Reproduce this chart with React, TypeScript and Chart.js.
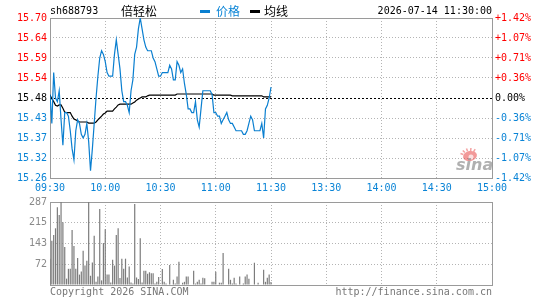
import { useEffect, useRef } from "react";
import { Chart, registerables } from "chart.js";

Chart.register(...registerables);

// ---- quote header ----
const symbolCode = "sh688793";
const stockName = "倍轻松";
const legendPrice = "价格";
const legendAvg = "均线";
const stampText = "2026-07-14 11:30:00";
const copyrightText = "Copyright 2026 SINA.COM";
const siteText = "http://finance.sina.com.cn";

// ---- axes ----
const prevClose = 15.48;
const priceMin = 15.26;
const priceMax = 15.7;
const timeLabels = ["09:30", "10:00", "10:30", "11:00", "11:30", "13:30", "14:00", "14:30", "15:00"];
// bottom → top
const priceTickLabels = ["15.26", "15.32", "15.37", "15.43", "15.48", "15.54", "15.59", "15.64", "15.70"];
const pctTickLabels = ["-1.42%", "-1.07%", "-0.71%", "-0.36%", "0.00%", "+0.36%", "+0.71%", "+1.07%", "+1.42%"];
const volumeMax = 287;
const volumeTickLabels = ["", "72", "143", "215", "287"];

// ---- minute series, 09:30 → 11:30 ----
const prices = [
  15.49, 15.41, 15.55, 15.48, 15.47, 15.5, 15.42, 15.35, 15.44, 15.44,
  15.43, 15.39, 15.34, 15.31, 15.39, 15.42, 15.41, 15.38, 15.37, 15.38,
  15.41, 15.36, 15.28, 15.34, 15.41, 15.48, 15.54, 15.59, 15.61, 15.6,
  15.58, 15.55, 15.54, 15.54, 15.54, 15.6, 15.64, 15.6, 15.56, 15.5,
  15.47, 15.47, 15.46, 15.44, 15.5, 15.53, 15.6, 15.62, 15.67, 15.7,
  15.67, 15.64, 15.62, 15.61, 15.61, 15.61, 15.59, 15.58, 15.56, 15.54,
  15.54, 15.55, 15.55, 15.55, 15.55, 15.57, 15.56, 15.53, 15.53, 15.58,
  15.57, 15.55, 15.56, 15.52, 15.49, 15.45, 15.45, 15.44, 15.44, 15.47,
  15.42, 15.4, 15.45, 15.5, 15.5, 15.5, 15.5, 15.5, 15.49, 15.44,
  15.44, 15.43, 15.43, 15.41, 15.42, 15.43, 15.44, 15.42, 15.41, 15.41,
  15.4, 15.39, 15.39, 15.39, 15.39, 15.38, 15.38, 15.39, 15.41, 15.43,
  15.42, 15.39, 15.39, 15.39, 15.39, 15.41, 15.37, 15.45, 15.46, 15.48,
  15.51,
];

const avgPrices = [
  15.488, 15.478, 15.47, 15.46, 15.458, 15.461, 15.461, 15.452, 15.441, 15.44,
  15.44, 15.44, 15.43, 15.422, 15.42, 15.417, 15.414, 15.414, 15.414, 15.414,
  15.414, 15.411, 15.411, 15.411, 15.411, 15.414, 15.42, 15.425, 15.43, 15.436,
  15.439, 15.444, 15.444, 15.444, 15.444, 15.45, 15.455, 15.461, 15.463, 15.463,
  15.463, 15.463, 15.463, 15.463, 15.463, 15.466, 15.469, 15.474, 15.477, 15.48,
  15.483, 15.483, 15.483, 15.486, 15.488, 15.488, 15.488, 15.488, 15.488, 15.488,
  15.488, 15.488, 15.488, 15.488, 15.488, 15.488, 15.488, 15.488, 15.488, 15.491,
  15.491, 15.491, 15.491, 15.491, 15.491, 15.491, 15.491, 15.491, 15.491, 15.491,
  15.491, 15.491, 15.491, 15.491, 15.491, 15.491, 15.491, 15.491, 15.491, 15.488,
  15.488, 15.488, 15.488, 15.488, 15.488, 15.488, 15.488, 15.488, 15.488, 15.486,
  15.486, 15.486, 15.486, 15.486, 15.486, 15.486, 15.486, 15.486, 15.486, 15.486,
  15.486, 15.486, 15.486, 15.486, 15.486, 15.486, 15.483, 15.483, 15.483, 15.483,
  15.483,
];

const volumes = [
  91, 153, 173, 196, 269, 242, 287, 217, 131, 22,
  56, 56, 190, 135, 56, 93, 36, 47, 118, 67,
  84, 287, 32, 78, 170, 11, 29, 263, 16, 145,
  193, 36, 36, 9, 87, 67, 173, 196, 24, 91,
  56, 91, 26, 64, 9, 5, 280, 26, 21, 162,
  9, 49, 49, 39, 44, 41, 41, 5, 11, 28,
  0, 55, 11, 5, 0, 69, 0, 18, 5, 29,
  80, 0, 8, 11, 29, 29, 0, 0, 49, 5,
  11, 18, 5, 25, 23, 0, 0, 0, 11, 11,
  46, 0, 8, 8, 111, 0, 0, 56, 18, 5,
  25, 5, 0, 29, 0, 5, 29, 36, 22, 0,
  0, 77, 0, 8, 0, 0, 53, 11, 25, 36,
  10,
];

// ---- styling ----
const MONO = '"DejaVu Sans Mono", monospace';
const CJK = '"Noto Sans CJK SC", sans-serif';
const BLUE = "#0a84d6";
const LINE_BLUE = "#0a7fd0";
const RED = "#ff0000";
const GRID = "#b4b4b4";
const FRAME = "#9a9a9a";
const VOL_GRAY = "#7c7c7c";
const LABEL_GRAY = "#8a8a8a";

const timeTicks = (axis: any) => {
  axis.ticks = timeLabels.map((_, i) => ({ value: i * 30 }));
};
const priceTicks = (axis: any) => {
  axis.ticks = priceTickLabels.map((_, i) => ({
    value: priceMin + ((priceMax - priceMin) * i) / (priceTickLabels.length - 1),
  }));
};
const sideColor = (ctx: any) => (ctx.index > 4 ? RED : ctx.index === 4 ? "#000" : BLUE);

const framePlugin = {
  id: "frame",
  beforeDatasetsDraw(chart: any) {
    const { ctx, chartArea: a } = chart;
    ctx.save();
    ctx.strokeStyle = FRAME;
    ctx.lineWidth = 1;
    ctx.strokeRect(Math.round(a.left) + 0.5, Math.round(a.top) + 0.5, Math.round(a.right - a.left), Math.round(a.bottom - a.top));
    ctx.restore();
  },
};

const baselinePlugin = {
  id: "baseline",
  beforeDatasetsDraw(chart: any) {
    const { ctx, chartArea: a, scales } = chart;
    const y = Math.round(scales.y.getPixelForValue(prevClose)) + 0.5;
    ctx.save();
    ctx.strokeStyle = "#000";
    ctx.lineWidth = 1;
    ctx.setLineDash([2, 2]);
    ctx.beginPath();
    ctx.moveTo(a.left, y);
    ctx.lineTo(a.right, y);
    ctx.stroke();
    ctx.restore();
  },
};

// faded site mark in the lower right corner of the price panel
const markPlugin = {
  id: "mark",
  beforeDatasetsDraw(chart: any) {
    const { ctx, chartArea: a } = chart;
    const cx = a.right - 22;
    const cy = a.bottom - 22;
    ctx.save();
    ctx.fillStyle = "rgba(232, 70, 70, 0.55)";
    ctx.beginPath();
    ctx.ellipse(cx, cy, 7, 5, -0.2, 0, Math.PI * 2);
    ctx.fill();
    ctx.strokeStyle = "rgba(232, 70, 70, 0.5)";
    ctx.lineWidth = 1.5;
    for (let k = 0; k < 5; k++) {
      const ang = -Math.PI * 0.9 + k * 0.45;
      ctx.beginPath();
      ctx.moveTo(cx + Math.cos(ang) * 7, cy + Math.sin(ang) * 5);
      ctx.lineTo(cx + Math.cos(ang) * 10, cy + Math.sin(ang) * 8);
      ctx.stroke();
    }
    ctx.fillStyle = "rgba(255, 255, 255, 0.7)";
    ctx.beginPath();
    ctx.arc(cx + 1, cy + 1, 2.5, 0, Math.PI * 2);
    ctx.fill();
    ctx.font = 'italic bold 16px "DejaVu Sans", sans-serif';
    ctx.fillStyle = "rgba(150, 150, 150, 0.75)";
    ctx.textBaseline = "alphabetic";
    ctx.fillText("sina", a.right - 36, a.bottom - 8);
    ctx.restore();
  },
};

function PriceVolumeChart() {
  const priceRef = useRef<HTMLCanvasElement>(null);
  const volRef = useRef<HTMLCanvasElement>(null);

  useEffect(() => {
    const priceChart = new Chart(priceRef.current!, {
      type: "line",
      data: {
        datasets: [
          {
            label: legendPrice,
            data: prices.map((p, i) => ({ x: i, y: p })),
            borderColor: LINE_BLUE,
            borderWidth: 1.2,
            pointRadius: 0,
            tension: 0,
          },
          {
            label: legendAvg,
            data: avgPrices.map((p, i) => ({ x: i, y: p })),
            borderColor: "#000",
            borderWidth: 1.2,
            pointRadius: 0,
            tension: 0,
          },
        ],
      },
      options: {
        animation: false,
        responsive: false,
        devicePixelRatio: 1,
        events: [],
        layout: { padding: { top: 18, left: 0, right: 0, bottom: 0 } },
        plugins: { legend: { display: false }, tooltip: { enabled: false } },
        scales: {
          x: {
            type: "linear",
            min: 0,
            max: 240,
            afterBuildTicks: timeTicks,
            afterFit: (axis: any) => {
              axis.height = 22;
            },
            ticks: {
              autoSkip: false,
              maxRotation: 0,
              padding: 4,
              color: BLUE,
              font: { family: MONO, size: 10 },
              callback: (_v: any, i: number) => timeLabels[i],
            },
            grid: { color: GRID, lineWidth: 1, drawTicks: false },
            border: { display: false, dash: [1, 2] },
          },
          y: {
            position: "left",
            min: priceMin,
            max: priceMax,
            afterBuildTicks: priceTicks,
            afterFit: (axis: any) => {
              axis.width = 50;
            },
            ticks: {
              padding: 3,
              color: sideColor,
              font: { family: MONO, size: 10 },
              callback: (_v: any, i: number) => priceTickLabels[i],
            },
            grid: {
              color: (ctx: any) => (ctx.index === 4 ? "rgba(0,0,0,0)" : GRID),
              lineWidth: 1,
              drawTicks: false,
            },
            border: { display: false, dash: [1, 2] },
          },
          pct: {
            type: "linear",
            position: "right",
            min: priceMin,
            max: priceMax,
            afterBuildTicks: priceTicks,
            afterFit: (axis: any) => {
              axis.width = 53;
            },
            ticks: {
              padding: 3,
              color: sideColor,
              font: { family: MONO, size: 10 },
              callback: (_v: any, i: number) => pctTickLabels[i],
            },
            grid: { display: false, drawTicks: false },
            border: { display: false },
          },
        },
      } as any,
      plugins: [framePlugin, baselinePlugin, markPlugin],
    });

    const volumeChart = new Chart(volRef.current!, {
      type: "bar",
      data: {
        datasets: [
          {
            data: volumes.map((v, i) => ({ x: i, y: v })),
            backgroundColor: VOL_GRAY,
            barThickness: 1.2,
            borderWidth: 0,
            inflateAmount: 0,
          },
        ],
      },
      options: {
        animation: false,
        responsive: false,
        devicePixelRatio: 1,
        events: [],
        layout: { padding: { top: 12, left: 0, right: 53, bottom: 0 } },
        plugins: { legend: { display: false }, tooltip: { enabled: false } },
        scales: {
          x: {
            type: "linear",
            min: 0,
            max: 240,
            offset: false,
            afterBuildTicks: timeTicks,
            afterFit: (axis: any) => {
              axis.height = 15;
            },
            ticks: { display: false },
            grid: { color: GRID, lineWidth: 1, drawTicks: false, offset: false },
            border: { display: false, dash: [1, 2] },
          },
          y: {
            min: 0,
            max: volumeMax,
            afterBuildTicks: (axis: any) => {
              axis.ticks = volumeTickLabels.map((_, i) => ({
                value: (volumeMax * i) / (volumeTickLabels.length - 1),
              }));
            },
            afterFit: (axis: any) => {
              axis.width = 50;
            },
            ticks: {
              padding: 3,
              color: LABEL_GRAY,
              font: { family: MONO, size: 10 },
              callback: (_v: any, i: number) => volumeTickLabels[i],
            },
            grid: { color: GRID, lineWidth: 1, drawTicks: false },
            border: { display: false, dash: [1, 2] },
          },
        },
      } as any,
      plugins: [framePlugin],
    });

    return () => {
      priceChart.destroy();
      volumeChart.destroy();
    };
  }, []);

  const text = (extra: any) => ({
    position: "absolute" as const,
    whiteSpace: "pre" as const,
    margin: 0,
    ...extra,
  });

  return (
    <div style={{ position: "absolute", left: 0, top: 0, width: 545, height: 300, background: "#fff", overflow: "hidden" }}>
      <canvas ref={priceRef} width={545} height={200} style={{ position: "absolute", left: 0, top: 0, width: 545, height: 200 }} />
      <canvas ref={volRef} width={545} height={110} style={{ position: "absolute", left: 0, top: 190, width: 545, height: 110 }} />

      <div style={text({ left: 50, top: 5, font: `10px ${MONO}`, lineHeight: "12px", color: "#000" })}>{symbolCode}</div>
      <div style={text({ left: 121, top: 3, font: `12px ${CJK}`, lineHeight: "16px", color: "#000" })}>{stockName}</div>

      <div style={{ position: "absolute", left: 200, top: 10, width: 10, height: 3, background: LINE_BLUE }} />
      <div style={text({ left: 216, top: 3, font: `12px ${CJK}`, lineHeight: "16px", color: BLUE })}>{legendPrice}</div>
      <div style={{ position: "absolute", left: 250, top: 10, width: 10, height: 3, background: "#000" }} />
      <div style={text({ left: 264, top: 3, font: `12px ${CJK}`, lineHeight: "16px", color: "#000" })}>{legendAvg}</div>

      <div style={text({ left: 0, width: 492, textAlign: "right", top: 5, font: `10px ${MONO}`, lineHeight: "12px", color: "#000" })}>{stampText}</div>

      <div style={text({ left: 50, top: 286, font: `10px ${MONO}`, lineHeight: "12px", color: "#777" })}>{copyrightText}</div>
      <div style={text({ left: 0, width: 492, textAlign: "right", top: 286, font: `10px ${MONO}`, lineHeight: "12px", color: "#777" })}>{siteText}</div>
    </div>
  );
}

export default function App() {
  return <PriceVolumeChart />;
}
